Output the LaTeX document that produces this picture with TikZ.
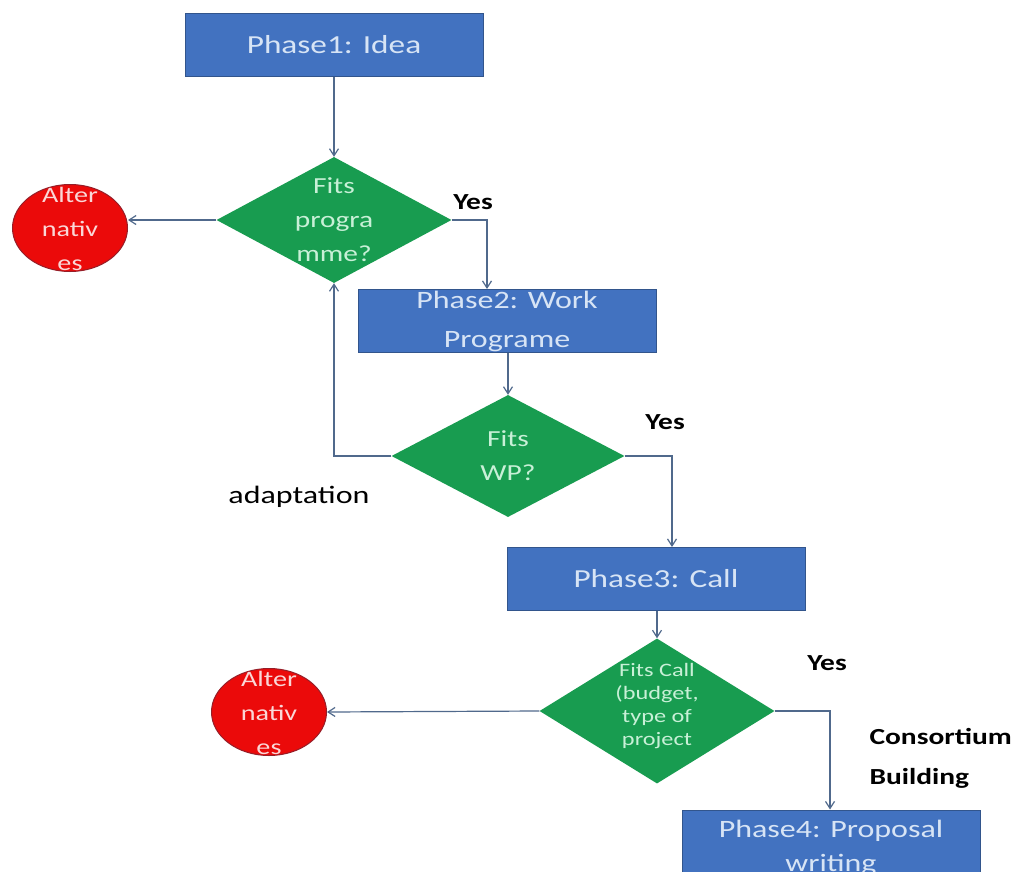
\documentclass[tikz,border=0pt]{standalone}
\usepackage{fontspec}
\setmainfont{Carlito}[FakeStretch=1.28]
\usetikzlibrary{shapes.geometric,arrows.meta}
\definecolor{boxblue}{RGB}{66,114,192}
\definecolor{boxedge}{RGB}{50,85,140}
\definecolor{boxtext}{RGB}{215,228,245}
\definecolor{dgreen}{RGB}{24,156,80}
\definecolor{dtext}{RGB}{200,240,215}
\definecolor{ared}{RGB}{235,10,10}
\definecolor{aedge}{RGB}{150,30,40}
\definecolor{atext}{RGB}{250,215,215}
\definecolor{conncol}{RGB}{80,105,140}
\newcommand{\ztext}[2][-0.3em]{\makebox[0pt]{\raisebox{#1}[0pt][0pt]{\begin{tabular}{@{}c@{}}#2\end{tabular}}}}
\tikzset{
  phasebox/.style={draw=boxedge, line width=1pt, fill=boxblue, text=boxtext, minimum width=298pt, minimum height=63pt, align=center, font=\fontsize{26}{30}\selectfont, inner sep=0pt},
  decision/.style={diamond, fill=dgreen, text=dtext, inner sep=0pt, font=\fontsize{23}{34}\selectfont},
  altnode/.style={ellipse, draw=aedge, line width=1pt, fill=ared, text=atext, minimum width=115pt, minimum height=87pt, inner sep=0pt, font=\fontsize{22}{34}\selectfont},
  conn/.style={draw=conncol, line width=1.2pt, -{Straight Barb[length=7pt,width=9pt]}},
  blabel/.style={font=\bfseries\fontsize{23}{40}\selectfont, align=left},
  nlabel/.style={font=\fontsize{25}{30}\selectfont}
}
\begin{document}
\begin{tikzpicture}[x=1pt,y=-1pt]
\useasboundingbox (0,0) rectangle (1014,872);
\clip (0,0) rectangle (1014,872);
\fill[white] (0,0) rectangle (1014,872);
\node[phasebox] (p1) at (334,45) {Phase1: Idea};
\node[decision, minimum width=235pt, minimum height=126pt] (d1) at (334,220) {\ztext{Fits\\progra\\mme?}};
\node[altnode] (alt1) at (70,228) {\ztext{Alter\\nativ\\es}};
\node[phasebox, font=\fontsize{25}{39}\selectfont] (p2) at (507,321) {Phase2: Work\\Programe};
\node[decision, minimum width=233pt, minimum height=122pt] (d2) at (508,456) {\ztext{Fits\\WP?}};
\node[phasebox] (p3) at (656,579) {Phase3: Call};
\node[decision, minimum width=235pt, minimum height=145pt, font=\fontsize{19}{23}\selectfont] (d3) at (657,711) {\ztext[0pt]{Fits Call\\(budget,\\type of\\project}};
\node[altnode] (alt2) at (269,712) {\ztext{Alter\\nativ\\es}};
\node[phasebox, font=\fontsize{25}{34}\selectfont, minimum height=76pt] (p4) at (831,848) {Phase4: Proposal\\writing};

\coordinate (k1) at (487,0);
\coordinate (k2) at (672,0);
\coordinate (k3) at (830,0);

\draw[conn] (p1) -- (d1);
\draw[conn] (d1.west) -- (alt1.east |- d1.west);
\draw[conn] (d1.east) -| (k1 |- p2.north);
\draw[conn] (p2.south -| d2.north) -- (d2.north);
\draw[conn] (d2.west) -| (d1.south);
\draw[conn] (d2.east) -| (k2 |- p3.north);
\draw[conn] (p3.south -| d3.north) -- (d3.north);
\draw[conn] (d3.west) -- (alt2.east);
\draw[conn] (d3.east) -| (k3 |- p4.north);

\node[blabel] (y1) at (473,202) {Yes};
\node[blabel] (y2) at (665,422) {Yes};
\node[blabel] (y3) at (827,663) {Yes};
\node[nlabel] (ad) at (299,497) {adaptation};
\node[blabel, anchor=west] (cb) at (866,758) {Consortium\\Building};
\end{tikzpicture}
\end{document}
